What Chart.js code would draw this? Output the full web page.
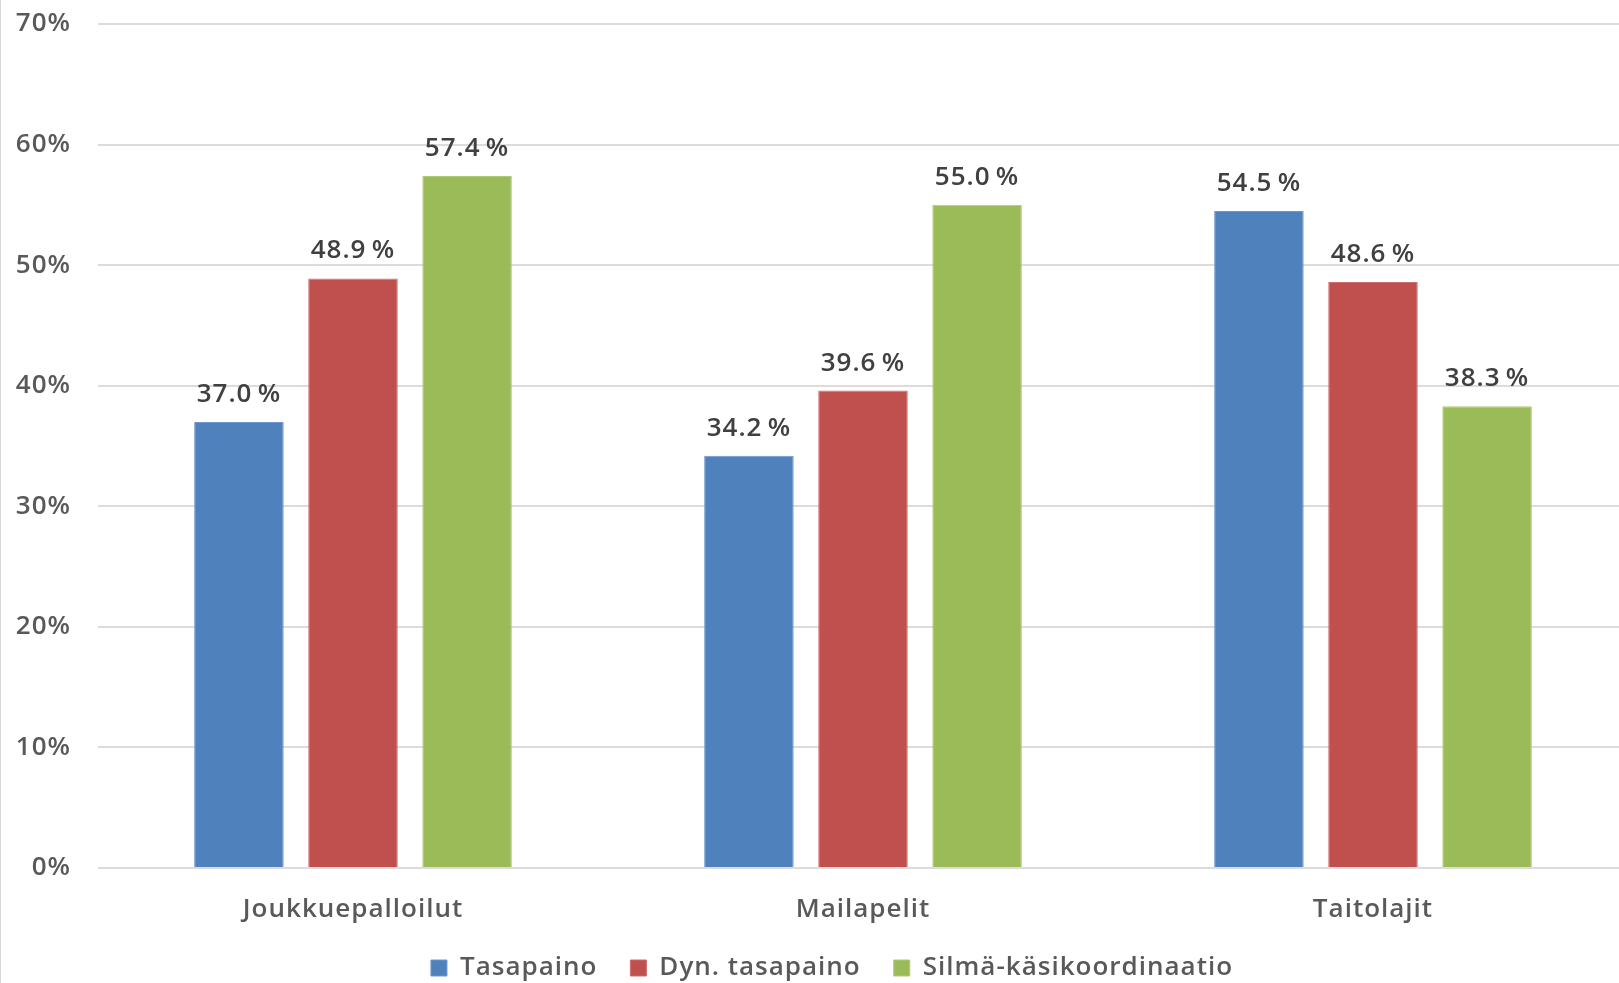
<!DOCTYPE html>
<html>
<head>
<meta charset="utf-8">
<script src="https://cdn.jsdelivr.net/npm/chart.js@4/dist/chart.umd.min.js"></script>
<style>
  html, body { margin: 0; padding: 0; background: #ffffff; overflow: hidden; }
  #frame { position: absolute; left: 0; top: 0; width: 1619px; height: 983px; overflow: hidden; }
  #edge { position: absolute; left: 0; top: 0; width: 1px; height: 983px; background: #d9d9d9; }
  canvas { display: block; }
</style>
</head>
<body>
<div id="frame">
  <canvas id="chart" width="1628" height="983"></canvas>
  <div id="edge"></div>
</div>
<script>
// Lajiryhmät ja sarjat
const categories = ['Joukkuepalloilut', 'Mailapelit', 'Taitolajit'];
const seriesNames = ['Tasapaino', 'Dyn. tasapaino', 'Silmä-käsikoordinaatio'];
const tasapaino = [37.0, 34.2, 54.5];
const dynTasapaino = [48.9, 39.6, 48.6];
const silmaKasi = [57.4, 55.0, 38.3];
const yTicks = [0, 10, 20, 30, 40, 50, 60, 70];

const FONT = '"Open Sans", Lato, sans-serif';
const colors = ['#4F81BD', '#C0504D', '#9BBB59'];
const edges = ['#6E98CC', '#CC6E6B', '#AFCA7A'];

const seriesValues = [tasapaino, dynTasapaino, silmaKasi];

// Hieman harvennettu teksti koko kaaviolle
function spaceText(chart) {
  try { chart.ctx.letterSpacing = '1px'; } catch (e) {}
}
const textSpacing = {
  id: 'textSpacing',
  beforeInit: spaceText,
  beforeUpdate: spaceText,
  beforeLayout: spaceText,
  beforeDraw: spaceText
};

// Arvot pylväiden yläpuolelle
const valueLabels = {
  id: 'valueLabels',
  afterDatasetsDraw(chart) {
    const ctx = chart.ctx;
    ctx.save();
    ctx.font = '600 26px ' + FONT;
    ctx.fillStyle = '#404040';
    ctx.textAlign = 'center';
    ctx.textBaseline = 'alphabetic';
    chart.data.datasets.forEach((ds, i) => {
      chart.getDatasetMeta(i).data.forEach((bar, j) => {
        ctx.fillText(ds.data[j].toFixed(1) + '\u2009%', bar.x, bar.y - 20);
      });
    });
    ctx.restore();
  }
};

// Selitteen korkeus kiinteäksi ja rivi hieman oikealle
const legendPlacement = {
  id: 'legendPlacement',
  beforeLayout(chart) {
    const lg = chart.legend;
    if (lg && !lg._placed) {
      const fit = lg.fit.bind(lg);
      lg.fit = function () { fit(); this.height = 61; };
      const draw = lg.draw.bind(lg);
      lg.draw = function () {
        const ctx = this.ctx;
        ctx.save();
        ctx.translate(18, 0);
        draw();
        ctx.restore();
      };
      lg._placed = true;
    }
  }
};

new Chart(document.getElementById('chart'), {
  type: 'bar',
  data: {
    labels: categories,
    datasets: seriesNames.map((name, i) => ({
      label: name,
      data: seriesValues[i],
      backgroundColor: colors[i],
      borderColor: edges[i],
      borderWidth: 1,
      categoryPercentage: 0.671,
      barPercentage: 0.785
    }))
  },
  options: {
    responsive: false,
    animation: false,
    devicePixelRatio: 1,
    layout: { padding: { top: 24, right: 0, bottom: 0, left: 0 } },
    plugins: {
      tooltip: { enabled: false },
      legend: {
        position: 'bottom',
        align: 'center',
        labels: {
          font: { family: FONT, size: 26, weight: '600' },
          color: '#595959',
          boxWidth: 16,
          boxHeight: 16,
          padding: 33
        }
      }
    },
    scales: {
      x: {
        grid: { display: false, drawTicks: false },
        border: { display: false },
        ticks: { font: { family: FONT, size: 26, weight: '600' }, color: '#595959', padding: 26 },
        afterFit(scale) {
          scale.height = 54;
          // tick labels may run past the axis box into the legend band
          scale._computeLabelArea = function () { return undefined; };
        }
      },
      y: {
        min: 0,
        max: 70,
        afterBuildTicks(scale) { scale.ticks = yTicks.map(v => ({ value: v })); },
        grid: { color: '#dcdcdc', lineWidth: 2, drawTicks: false },
        border: { display: false },
        ticks: {
          font: { family: FONT, size: 26, weight: '600' },
          color: '#595959',
          padding: 27,
          callback: v => v + '%'
        },
        afterFit(scale) {
          scale.width = 98;
          scale.paddingTop = 0;
          scale.paddingBottom = 0;
        }
      }
    }
  },
  plugins: [textSpacing, valueLabels, legendPlacement]
});
</script>
</body>
</html>
